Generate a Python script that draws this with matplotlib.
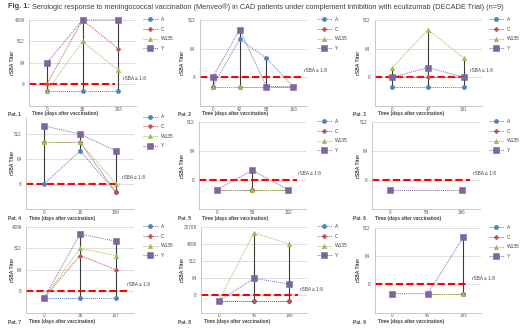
import numpy as np
import matplotlib
matplotlib.use("Agg")
import matplotlib.pyplot as plt
from matplotlib import transforms

nan = np.nan

PATIENTS = ["Pat. 1", "Pat. 2", "Pat. 3", "Pat. 4", "Pat. 5", "Pat. 6", "Pat. 7", "Pat. 8", "Pat. 9"]
DAYS = [
    [0, 35, 193], [0, 42, 98, 193], [0, 47, 191],
    [0, 18, 169], [0, 56, 152], [0, 54, 196],
    [0, 35, 167], [0, 40, 196], [0, 40, 195],
]
SEROGROUPS = ["A", "C", "W135", "Y"]
# rSBA titers (4 = below detection limit, plotted under the 1:8 line)
TITER_A = [
    [4, 4, 4], [4, 128, 32, 4], [4, 4, 4],
    [8, 128, 4], [4, 4, 4], [nan, nan, nan],
    [4, 4, 4], [4, 4, 4], [nan, 4, 4],
]
TITER_C = [
    [8, 4096, 256], [4, 4, 4, 4], [8, 8, 8],
    [256, 256, 4], [4, 4, 4], [nan, nan, nan],
    [4, 256, 64], [4, 4, 4], [nan, 4, 4],
]
TITER_W135 = [
    [4, 512, 32], [4, 4, 4, 4], [16, 256, 32],
    [256, 256, 8], [4, 4, 4], [nan, nan, nan],
    [4, 512, 256], [4, 16384, 4096], [nan, 4, 4],
]
TITER_Y = [
    [64, 4096, 4096], [8, 256, 4, 4], [8, 16, 8],
    [1024, 512, 128], [4, 16, 4], [4, nan, 4],
    [4, 2048, 1024], [4, 64, 32], [4, 4, 256],
]
Y_MAX = [4096, 512, 512, 2048, 512, 512, 4096, 32768, 512]
Y_TICKS = [8, 64, 512, 4096, 32768]
THRESHOLD = 8

W, H = 520, 328
# panel boxes in pixels: left, top, right, bottom
PANEL_BOX = [
    (29, 20, 136, 105.7), (199.5, 20, 306.5, 105.7), (374.5, 20, 481.5, 105.7),
    (26, 117.5, 134, 209), (199, 122, 306, 209), (372, 122, 480, 209),
    (26, 227, 134, 312.5), (201, 227, 307, 312.5), (374.5, 228, 481, 312.5),
]
RED_END = [115, 303, 468, 120, 297, 470, 128, 298, 468]
LABEL_X = [123, 304, 470, 122, 298, 473, 127, 300, 472]
LEGEND_X = [143, 317, 489]
ROW_LABEL_Y = [114, 218.5, 322]
YLABEL_X = [12, 183, 358]
PAT_X = [8, 178, 353]

COLORS = {"A": "#4f81bd", "C": "#c0504d", "W135": "#9bbb59", "Y": "#8064a2"}
MARKERS = {"A": ("o", 3.0), "C": ("D", 2.4), "W135": ("^", 3.2), "Y": ("s", 3.8)}
TEXT = "#404040"

plt.rcParams["font.family"] = ["Liberation Sans", "DejaVu Sans"]


def px_rect(left, top, right, bottom):
    return [left / W, 1 - bottom / H, (right - left) / W, (bottom - top) / H]


fig = plt.figure(figsize=(W / 100, H / 100), dpi=100)
fig.patch.set_facecolor("white")

series_all = [TITER_A, TITER_C, TITER_W135, TITER_Y]
axes = []

for p in range(9):
    row, col = divmod(p, 3)
    left, top, right, bottom = PANEL_BOX[p]
    ax = fig.add_axes(px_rect(left, top, right, bottom))
    axes.append(ax)
    n = len(DAYS[p])
    xs = np.arange(n)
    data = [np.array(s[p], dtype=float) for s in series_all]

    # high-low lines
    for i in range(n):
        col_vals = [d[i] for d in data if not np.isnan(d[i])]
        if len(col_vals) >= 2 and max(col_vals) > min(col_vals):
            ax.vlines(i, min(col_vals), max(col_vals), color="#3a3a3a", lw=0.8, zorder=2)

    handles = []
    for name, d in zip(SEROGROUPS, data):
        mask = ~np.isnan(d)
        m, ms = MARKERS[name]
        (ln,) = ax.plot(
            xs[mask], d[mask], linestyle=(0, (1, 1)), lw=0.7, color=COLORS[name],
            marker=m, ms=ms, mfc=COLORS[name], mec=COLORS[name], mew=0.4,
            label=name, zorder=3, clip_on=False,
        )
        handles.append(ln)

    ax.set_yscale("log", base=2)
    ax.set_ylim(1, Y_MAX[p])
    ax.set_xlim(-0.5, n - 0.5)
    ticks = [t for t in Y_TICKS if t <= Y_MAX[p]]
    ax.set_yticks(ticks)
    ax.set_yticklabels([str(t) for t in ticks])
    ax.yaxis.set_minor_locator(matplotlib.ticker.NullLocator())
    ax.set_xticks(xs)
    ax.set_xticklabels([str(d) for d in DAYS[p]])
    ax.tick_params(axis="both", length=0, labelsize=3.3, colors="#595959")
    ax.tick_params(axis="x", pad=0.6)
    ax.tick_params(axis="y", pad=3)
    ax.yaxis.grid(True, color="#d9d9d9", lw=0.6)
    ax.set_axisbelow(True)
    for s in ["top", "right"]:
        ax.spines[s].set_visible(False)
    for s in ["left", "bottom"]:
        ax.spines[s].set_color("#bfbfbf")
        ax.spines[s].set_linewidth(0.6)

    # threshold line and label
    frac_end = (RED_END[p] - left) / (right - left)
    ytr = ax.get_yaxis_transform()
    ax.plot([0, frac_end], [THRESHOLD, THRESHOLD], transform=ytr, color="#ff0000",
            lw=1.5, linestyle=(0, (3.5, 1.5)), zorder=2.5, clip_on=False)
    frac_lab = (LABEL_X[p] - left) / (right - left)
    lab_tr = transforms.offset_copy(ytr, fig=fig, x=0, y=6.2, units="dots")
    ax.text(frac_lab, THRESHOLD, "rSBA \u2265 1:8", transform=lab_tr, fontsize=3.4,
            color=TEXT, va="center", ha="left", clip_on=False)

    ax.legend(
        handles=handles, loc="upper left",
        bbox_to_anchor=(LEGEND_X[col] / W, 1 - (top - 3) / H), bbox_transform=fig.transFigure,
        frameon=False, fontsize=3.5, handlelength=3.0, handletextpad=0.6,
        labelspacing=0.95, borderpad=0, borderaxespad=0, labelcolor=TEXT,
    )

    yc = 1 - ((top + bottom) / 2) / H
    fig.text(YLABEL_X[col] / W, yc, "rSBA Titer", rotation=90, fontsize=3.5,
             weight="bold", color=TEXT, ha="center", va="center")
    ylab = 1 - ROW_LABEL_Y[row] / H
    fig.text(PAT_X[col] / W, ylab, PATIENTS[p], fontsize=3.4, weight="bold",
             color=TEXT, ha="left", va="center")
    fig.text((left + 3) / W, ylab, "Time (days after vaccination)", fontsize=3.4,
             weight="bold", color=TEXT, ha="left", va="center")

# title: bold prefix followed by the normal text
t1 = fig.text(8 / W, 1 - 7 / H, "Fig. 1:", fontsize=5.35, weight="bold", color=TEXT, va="center")
axes[0].annotate(
    " Serologic response to meningococcal vaccination (Menveo\u00ae) in CAD patients under "
    "complement inhibition with eculizumab (DECADE Trial) (n=9)",
    xy=(1, 0.5), xycoords=t1, va="center", fontsize=5.35, color=TEXT,
    annotation_clip=False,
)

fig.savefig("out.png", dpi=100, facecolor="white")
